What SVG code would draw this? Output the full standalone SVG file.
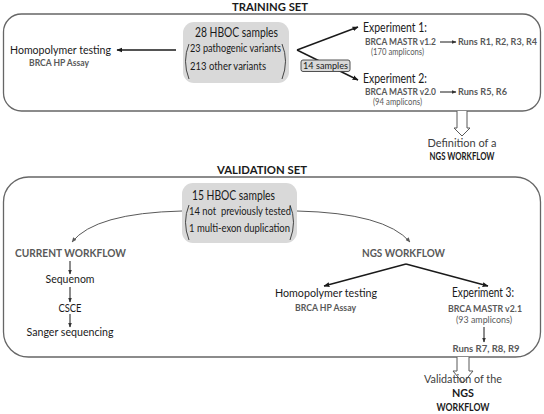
<svg xmlns="http://www.w3.org/2000/svg" width="544" height="414" viewBox="0 0 544 414">
<defs>
<style>
text{font-family:Lato,"Liberation Sans",sans-serif;fill:#1a1a1a;white-space:pre}
.t{font-size:11.5px}
.big{font-size:13px}
.exp{font-size:12.5px}
.sm{font-size:10.5px}
.title{font-size:12px;font-weight:bold}
.gb{font-size:9.3px;font-weight:bold;fill:#595959}
.gb2{font-size:9px;font-weight:bold;fill:#595959}
.gr{font-size:9.3px;fill:#595959}
.wf{font-size:11.5px;font-weight:bold;fill:#595959}
.dk{font-size:12px;fill:#404040}
.dkb{font-size:11.5px;font-weight:bold;fill:#1a1a1a}
.frame{fill:#fff;stroke:#666;stroke-width:1.3}
.gbox{fill:#d9d9d9;stroke:none}
.paren{fill:none;stroke:#333;stroke-width:0.9}
.ln{fill:none;stroke:#1a1a1a;stroke-width:1.4}
.thin{fill:none;stroke:#1a1a1a;stroke-width:1}
.curve{fill:none;stroke:#595959;stroke-width:1}
.hollow{fill:#fff;stroke:#595959;stroke-width:1}
</style>
<marker id="ah" viewBox="0 0 10 10" refX="9" refY="5" markerWidth="6" markerHeight="6" markerUnits="userSpaceOnUse" orient="auto"><path d="M0,1 L10,5 L0,9 z" fill="#1a1a1a"/></marker>
<marker id="ahs" viewBox="0 0 10 10" refX="9" refY="5" markerWidth="5" markerHeight="5" markerUnits="userSpaceOnUse" orient="auto"><path d="M0,1 L10,5 L0,9 z" fill="#333"/></marker>
<marker id="ahg" viewBox="0 0 10 10" refX="9" refY="5" markerWidth="5" markerHeight="5" markerUnits="userSpaceOnUse" orient="auto"><path d="M0,1 L10,5 L0,9 z" fill="#595959"/></marker>
</defs>

<g id="training-frame">
<rect class="frame" x="3.5" y="14" width="537" height="97" rx="18"/>
<text class="title" x="232" y="11" textLength="76" lengthAdjust="spacingAndGlyphs">TRAINING SET</text>
</g>

<g id="validation-frame">
<rect class="frame" x="3.5" y="177" width="537" height="180" rx="25"/>
<text class="title" x="217" y="174" textLength="90" lengthAdjust="spacingAndGlyphs">VALIDATION SET</text>
</g>

<g id="connectors">
<line class="ln" x1="176" y1="50" x2="117" y2="50" marker-end="url(#ah)"/>
<line class="ln" x1="297" y1="50" x2="358" y2="27" marker-end="url(#ah)"/>
<line class="ln" x1="297" y1="50" x2="358" y2="80" marker-end="url(#ah)"/>
<line class="thin" x1="440" y1="42" x2="456" y2="42" marker-end="url(#ahs)"/>
<line class="thin" x1="440" y1="92" x2="456" y2="92" marker-end="url(#ahs)"/>
<path class="hollow" d="M457,111 L457,128 L454,128 L462,136 L470,128 L467,128 L467,111"/>
<path class="curve" d="M182,211 Q95,213 72,242" marker-end="url(#ahg)"/>
<path class="curve" d="M297,211 Q385,213 410,242" marker-end="url(#ahg)"/>
<line class="thin" x1="70" y1="261" x2="70" y2="274" marker-end="url(#ahs)"/>
<line class="thin" x1="70" y1="287" x2="70" y2="302" marker-end="url(#ahs)"/>
<line class="thin" x1="70" y1="314" x2="70" y2="327" marker-end="url(#ahs)"/>
<line class="ln" x1="406" y1="264" x2="324" y2="286" marker-end="url(#ah)"/>
<line class="ln" x1="406" y1="264" x2="488" y2="286" marker-end="url(#ah)"/>
<line class="thin" x1="484" y1="327" x2="484" y2="342" marker-end="url(#ahs)"/>
<path class="hollow" d="M457,357 L457,371 L453,371 L463,383 L473,371 L469,371 L469,357"/>
</g>

<g id="train-samples">
<rect class="gbox" x="183" y="22" width="106" height="61" rx="11"/>
<text class="big" x="195" y="37" textLength="83" lengthAdjust="spacingAndGlyphs">28 HBOC samples</text>
<path class="paren" d="M189,44 Q182,61 189,79"/>
<path class="paren" d="M282,44 Q289,61 282,79"/>
<text class="sm" x="190" y="52" textLength="91" lengthAdjust="spacingAndGlyphs">23 pathogenic variants</text>
<text class="sm" x="190" y="70" textLength="76" lengthAdjust="spacingAndGlyphs">213 other variants</text>
</g>

<g id="train-homopolymer">
<text class="t" x="10" y="54" textLength="101" lengthAdjust="spacingAndGlyphs">Homopolymer testing</text>
<text class="gb2" x="29" y="66" textLength="60" lengthAdjust="spacingAndGlyphs">BRCA HP Assay</text>
</g>

<g id="fourteen-samples">
<rect x="301" y="60" width="49" height="11.5" rx="2" fill="#d9d9d9" stroke="#404040" stroke-width="0.9"/>
<text x="303" y="69" style="font-size:10px" textLength="45" lengthAdjust="spacingAndGlyphs">14 samples</text>
</g>

<g id="experiment1">
<text class="exp" x="363" y="32" textLength="64" lengthAdjust="spacingAndGlyphs">Experiment 1:</text>
<text class="gb" x="365" y="45" textLength="71" lengthAdjust="spacingAndGlyphs">BRCA MASTR v1.2</text>
<text class="gb" x="458" y="45" textLength="79" lengthAdjust="spacingAndGlyphs">Runs R1, R2, R3, R4</text>
<text class="gr" x="371" y="55" textLength="53" lengthAdjust="spacingAndGlyphs">(170 amplicons)</text>
</g>

<g id="experiment2">
<text class="exp" x="363" y="83" textLength="64" lengthAdjust="spacingAndGlyphs">Experiment 2:</text>
<text class="gb" x="365" y="95" textLength="71" lengthAdjust="spacingAndGlyphs">BRCA MASTR v2.0</text>
<text class="gb" x="458" y="95" textLength="49" lengthAdjust="spacingAndGlyphs">Runs R5, R6</text>
<text class="gr" x="373" y="105" textLength="49" lengthAdjust="spacingAndGlyphs">(94 amplicons)</text>
</g>

<g id="definition">
<text class="dk" x="462" y="147" text-anchor="middle" textLength="69" lengthAdjust="spacingAndGlyphs">Definition of a</text>
<text class="dkb" x="462" y="160" text-anchor="middle" textLength="65" lengthAdjust="spacingAndGlyphs">NGS WORKFLOW</text>
</g>

<g id="val-samples">
<rect class="gbox" x="182" y="183" width="115" height="60" rx="11"/>
<text class="big" x="192" y="200" textLength="83" lengthAdjust="spacingAndGlyphs">15 HBOC samples</text>
<path class="paren" d="M189,205 Q182,222 189,240"/>
<path class="paren" d="M290,205 Q297,222 290,240"/>
<text class="sm" x="189" y="215" textLength="102" lengthAdjust="spacingAndGlyphs">14 not  previously tested</text>
<text class="sm" x="189" y="232" textLength="101" lengthAdjust="spacingAndGlyphs">1 multi-exon duplication</text>
</g>

<g id="current-workflow">
<text class="wf" x="15" y="257" textLength="111" lengthAdjust="spacingAndGlyphs">CURRENT WORKFLOW</text>
<text class="t" x="70" y="283" text-anchor="middle" textLength="49" lengthAdjust="spacingAndGlyphs">Sequenom</text>
<text class="t" x="70" y="312" text-anchor="middle" textLength="23" lengthAdjust="spacingAndGlyphs">CSCE</text>
<text class="t" x="70" y="336" text-anchor="middle" textLength="87" lengthAdjust="spacingAndGlyphs">Sanger sequencing</text>
</g>

<g id="ngs-workflow">
<text class="wf" x="362" y="257" textLength="83" lengthAdjust="spacingAndGlyphs">NGS WORKFLOW</text>
</g>

<g id="val-homopolymer">
<text class="t" x="275" y="297" textLength="102" lengthAdjust="spacingAndGlyphs">Homopolymer testing</text>
<text class="gb2" x="295" y="311" textLength="61" lengthAdjust="spacingAndGlyphs">BRCA HP Assay</text>
</g>

<g id="experiment3">
<text class="exp" x="452" y="297" textLength="62" lengthAdjust="spacingAndGlyphs">Experiment 3:</text>
<text class="gb" x="485" y="312" text-anchor="middle" textLength="74" lengthAdjust="spacingAndGlyphs">BRCA MASTR v2.1</text>
<text class="gr" x="484" y="323" text-anchor="middle" textLength="56" lengthAdjust="spacingAndGlyphs">(93 amplicons)</text>
<text class="gb" x="486" y="352" text-anchor="middle" textLength="67" lengthAdjust="spacingAndGlyphs">Runs R7, R8, R9</text>
</g>

<g id="validation-result">
<text class="dk" x="463" y="383" text-anchor="middle" textLength="78" lengthAdjust="spacingAndGlyphs">Validation of the</text>
<text class="dkb" x="463" y="397" text-anchor="middle" textLength="22" lengthAdjust="spacingAndGlyphs">NGS</text>
<text class="dkb" x="463" y="411" text-anchor="middle" textLength="53" lengthAdjust="spacingAndGlyphs">WORKFLOW</text>
</g>
</svg>
